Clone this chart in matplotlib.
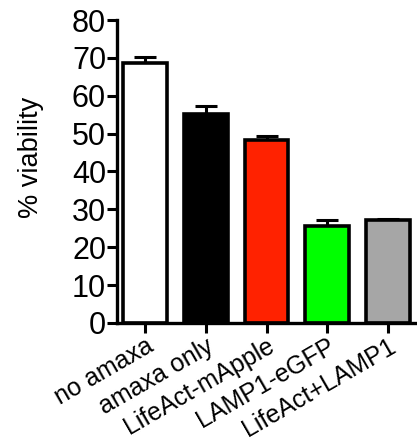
import matplotlib.pyplot as plt

plt.rcParams['font.family'] = ['Liberation Sans', 'DejaVu Sans']

categories = ['no amaxa', 'amaxa only', 'LifeAct-mApple', 'LAMP1-eGFP', 'LifeAct+LAMP1']
viability = [68.7, 55.3, 48.3, 25.5, 27.1]
sem = [1.6, 2.0, 1.1, 1.8, 0.3]
colors = ['white', 'black', '#ff2200', '#00ff00', '#a6a6a6']

fig = plt.figure(figsize=(4.17, 4.46), dpi=100)
ax = fig.add_axes([0.281, 0.276, 0.715, 0.679])

x = range(len(categories))
ax.bar(x, viability, width=0.72, color=colors, edgecolor='black', linewidth=2.6,
       yerr=[[0] * len(sem), sem], capsize=8,
       error_kw=dict(elinewidth=2.2, capthick=2.2, ecolor='black', zorder=1), zorder=2)

ax.set_xlim(-0.46, 4.45)
ax.set_ylim(0, 80)
ax.set_yticks(range(0, 81, 10))
ax.set_xticks(list(x))
ax.set_xticklabels(categories, rotation=30, ha='right', rotation_mode='anchor', fontsize=18)
ax.tick_params(axis='y', labelsize=22, width=2.2, length=7, pad=1)
ax.tick_params(axis='x', width=2.2, length=7, pad=1)
ax.set_ylabel('% viability', fontsize=19.5, va='center')
ax.yaxis.set_label_coords(-0.29, 0.545)

for side in ['top', 'right']:
    ax.spines[side].set_visible(False)
for side in ['left', 'bottom']:
    ax.spines[side].set_linewidth(2.4)

fig.savefig('out.png', dpi=100)
